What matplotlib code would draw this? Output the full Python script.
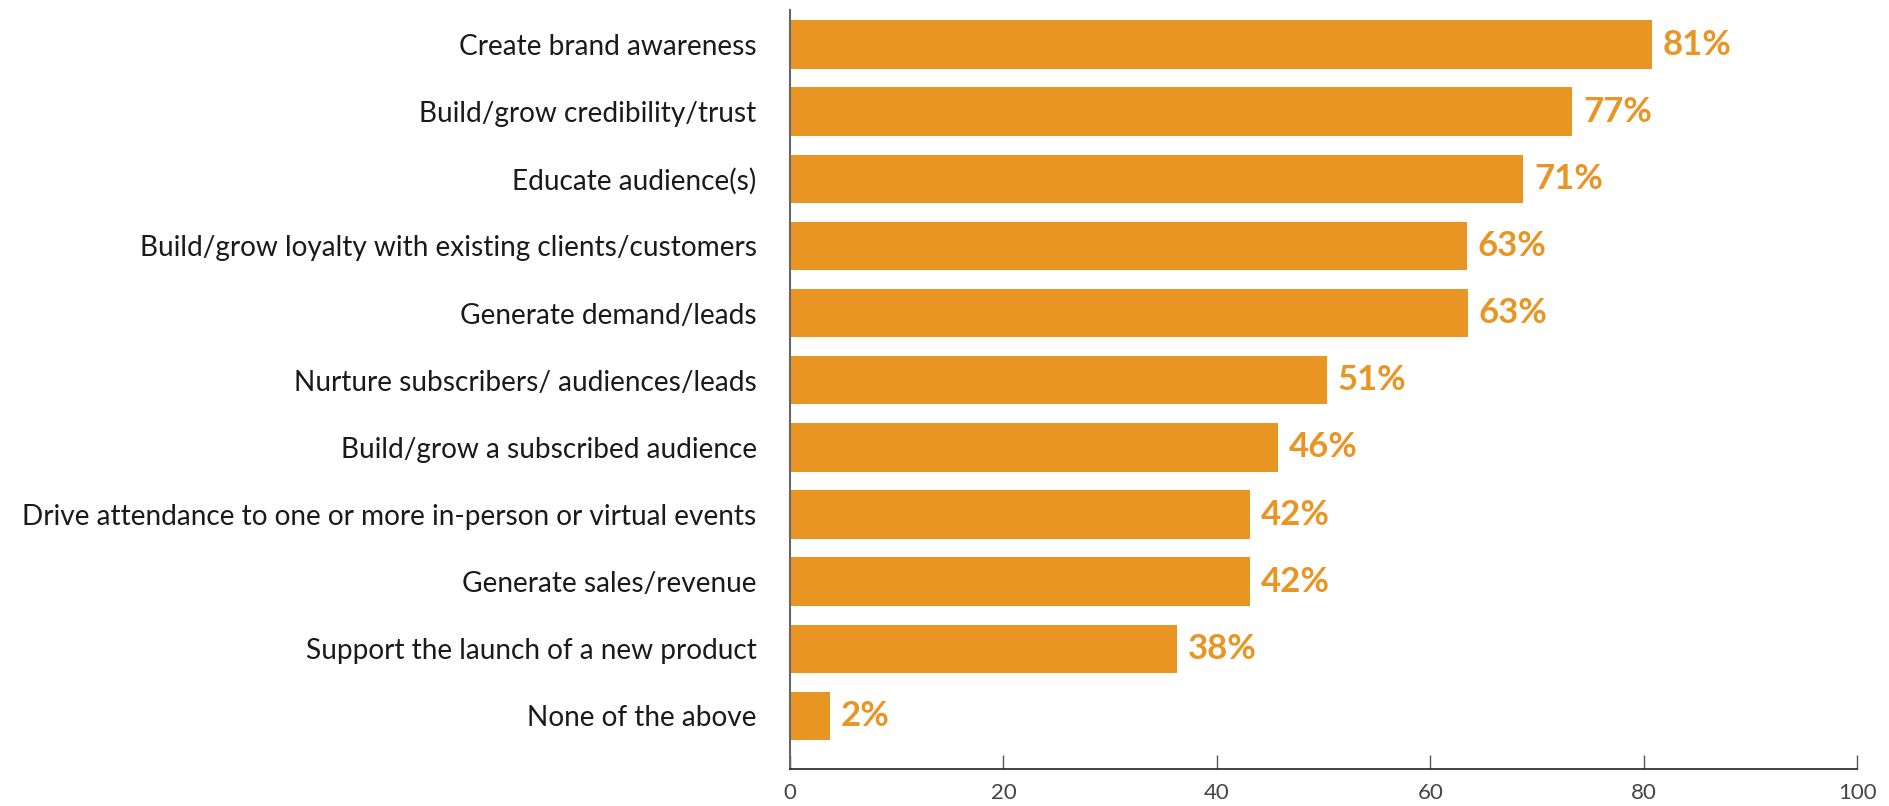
"""Content marketing goals: horizontal bar chart."""

import matplotlib

matplotlib.use("Agg")

import matplotlib.pyplot as plt

categories = [
    "Create brand awareness",
    "Build/grow credibility/trust",
    "Educate audience(s)",
    "Build/grow loyalty with existing clients/customers",
    "Generate demand/leads",
    "Nurture subscribers/ audiences/leads",
    "Build/grow a subscribed audience",
    "Drive attendance to one or more in-person or virtual events",
    "Generate sales/revenue",
    "Support the launch of a new product",
    "None of the above",
]
# bar lengths as drawn in the picture (axis units)
bar_values = [80.8, 73.3, 68.7, 63.4, 63.5, 50.3, 45.7, 43.1, 43.1, 36.3, 3.75]
value_labels = ["81%", "77%", "71%", "63%", "63%", "51%", "46%", "42%", "42%", "38%", "2%"]
x_ticks = [0, 20, 40, 60, 80, 100]

BAR = "#E99524"
FONT = "Lato"

fig = plt.figure(figsize=(18.89, 8.06), dpi=100)
ax = fig.add_axes([0.4182, 0.0459, 0.5650, 0.9417])

ypos = list(range(len(categories)))
ax.barh(ypos, bar_values, height=0.72, color=BAR)

for y, v, lab in zip(ypos, bar_values, value_labels):
    ax.text(v + 1.0, y, lab, va="center", ha="left", color=BAR,
            fontsize=25, fontweight="bold", family=FONT)

ax.set_ylim(10.79, -0.514)
ax.set_xlim(0, 100)
ax.set_yticks(ypos)
ax.set_yticklabels(categories, fontsize=20.2, family=FONT, color="#1a1a1a")
ax.tick_params(axis="y", length=0, pad=24)
ax.set_xticks(x_ticks)
ax.set_xticklabels([str(t) for t in x_ticks], fontsize=16, family=FONT, color="#444444")
ax.tick_params(axis="x", direction="in", length=10, width=1, color="#555555", pad=10)

for s in ["top", "right"]:
    ax.spines[s].set_visible(False)
ax.spines["left"].set_color("#666666")
ax.spines["left"].set_linewidth(1.5)
ax.spines["bottom"].set_color("#222222")
ax.spines["bottom"].set_linewidth(1.2)

fig.savefig("out.png", dpi=100, facecolor="white")
plt.close(fig)
